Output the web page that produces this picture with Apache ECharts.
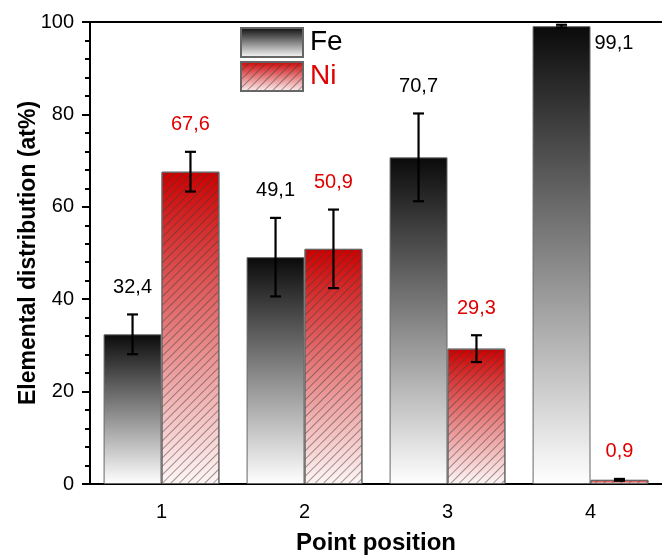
<!DOCTYPE html>
<html><head><meta charset="utf-8">
<script src="https://cdn.jsdelivr.net/npm/echarts@6/dist/echarts.min.js"></script>
<style>html,body{margin:0;padding:0;background:#fff}#c{width:662px;height:556px}</style>
</head><body><div id="c"></div>
<script>
var categories = ['1', '2', '3', '4'];
var feValues = [32.4, 49.1, 70.7, 99.1];
var niValues = [67.6, 50.9, 29.3, 0.9];
var feErrors = [4.3, 8.5, 9.5, 0.3];
var niErrors = [4.3, 8.5, 2.9, 0.2];
var feLabels = ['32,4', '49,1', '70,7', '99,1'];
var niLabels = ['67,6', '50,9', '29,3', '0,9'];
var yTicks = [0, 20, 40, 60, 80, 100];

var FONT = 'Liberation Sans, Arial, sans-serif';
var BAR_FRAC = 0.405;
var feColor = new echarts.graphic.LinearGradient(0, 0, 0, 1, [
  {offset: 0, color: '#0a0a0a'}, {offset: 1, color: '#ffffff'}]);
var niColor = new echarts.graphic.LinearGradient(0, 0, 0, 1, [
  {offset: 0, color: '#cc0000'}, {offset: 1, color: '#fff6f6'}]);
var hatch = {
  symbol: 'rect', symbolSize: 1, dashArrayX: [[1, 0]], dashArrayY: [1, 5],
  rotation: -Math.PI / 4, color: 'rgba(60,60,60,0.5)'
};

function errData(vals, errs) {
  return vals.map(function (v, i) { return [i, v, errs[i]]; });
}
var labelSets = {'-1': feLabels, '1': niLabels};

function makeRender(side, textColor) {
  return function (params, api) {
    var idx = api.value(0), v = api.value(1), e = api.value(2);
    var label = labelSets[side][params.dataIndex];
    var bw = api.size([1, 0])[0] * BAR_FRAC;
    var base = api.coord([idx, v]);
    var cx = base[0] + side * bw / 2;
    var top = api.coord([idx, v + e])[1];
    var bot = api.coord([idx, v - e])[1];
    var plotTop = params.coordSys.y;
    var half = 5.5;
    var children = [
      {type: 'line', shape: {x1: cx, y1: top, x2: cx, y2: bot}, style: {stroke: '#000', lineWidth: 2.2}},
      {type: 'line', shape: {x1: cx - half, y1: top, x2: cx + half, y2: top}, style: {stroke: '#000', lineWidth: 2.2}},
      {type: 'line', shape: {x1: cx - half, y1: bot, x2: cx + half, y2: bot}, style: {stroke: '#000', lineWidth: 2.2}}
    ];
    var ty = top - 27, tx = cx, align = 'center';
    if (ty - 10 < plotTop) { tx = cx + bw / 2 + 4; ty = base[1] + 17; align = 'left'; }
    children.push({type: 'text', style: {text: label, x: tx, y: ty, align: align, verticalAlign: 'middle',
      fontSize: 20, fontFamily: FONT, fill: textColor}});
    return {type: 'group', children: children};
  };
}

var chart = echarts.init(document.getElementById('c'));
chart.setOption({
  animation: false,
  backgroundColor: '#fff',
  grid: {left: 90, right: 0, top: 22, bottom: 72, containLabel: false, outerBoundsMode: 'none'},
  legend: {
    orient: 'vertical', left: 240, top: 27, padding: 0, itemWidth: 62, itemHeight: 29, itemGap: 3,
    icon: 'rect',
    textStyle: {fontFamily: FONT, fontSize: 28, lineHeight: 29, color: '#000', padding: [0, 0, 0, 2]},
    data: [{name: 'Fe'}, {name: 'Ni', textStyle: {color: '#e00000'}}]
  },
  xAxis: [{
    type: 'category', data: categories,
    axisLine: {lineStyle: {color: '#000', width: 2}},
    axisTick: {alignWithLabel: true, length: 7, lineStyle: {color: '#000', width: 2}},
    axisLabel: {fontFamily: FONT, fontSize: 20, color: '#000', margin: 18},
    name: 'Point position', nameLocation: 'middle', nameGap: 47, nameMoveOverlap: false,
    nameTextStyle: {fontFamily: FONT, fontSize: 24, fontWeight: 'bold', color: '#000'}
  }, {
    type: 'category', data: categories, position: 'top',
    axisLine: {lineStyle: {color: '#000', width: 2}},
    axisTick: {show: false}, axisLabel: {show: false}
  }],
  yAxis: {
    type: 'value', min: yTicks[0], max: yTicks[yTicks.length - 1], interval: 20,
    axisLine: {show: true, lineStyle: {color: '#000', width: 2}},
    axisTick: {show: true, length: 8, lineStyle: {color: '#000', width: 2}},
    minorTick: {show: true, splitNumber: 5, length: 5, lineStyle: {color: '#000', width: 2}},
    splitLine: {show: false},
    axisLabel: {fontFamily: FONT, fontSize: 20, color: '#000', margin: 16},
    name: 'Elemental distribution (at%)', nameLocation: 'middle', nameGap: 50, nameMoveOverlap: false,
    nameTextStyle: {fontFamily: FONT, fontSize: 23, fontWeight: 'bold', color: '#000'}
  },
  series: [{
    name: 'Fe', type: 'bar', data: feValues, barWidth: (BAR_FRAC * 100) + '%', barGap: '0%',
    itemStyle: {color: feColor, borderColor: '#666', borderWidth: 1}
  }, {
    name: 'Ni', type: 'bar', data: niValues, barWidth: (BAR_FRAC * 100) + '%', barGap: '0%',
    itemStyle: {color: niColor, borderColor: '#666', borderWidth: 1, decal: hatch}
  }, {
    type: 'custom', z: 10, renderItem: makeRender(-1, '#000'),
    data: errData(feValues, feErrors), encode: {x: 0, y: 1}
  }, {
    type: 'custom', z: 10, renderItem: makeRender(1, '#e00000'),
    data: errData(niValues, niErrors), encode: {x: 0, y: 1}
  }]
});
</script></body></html>
